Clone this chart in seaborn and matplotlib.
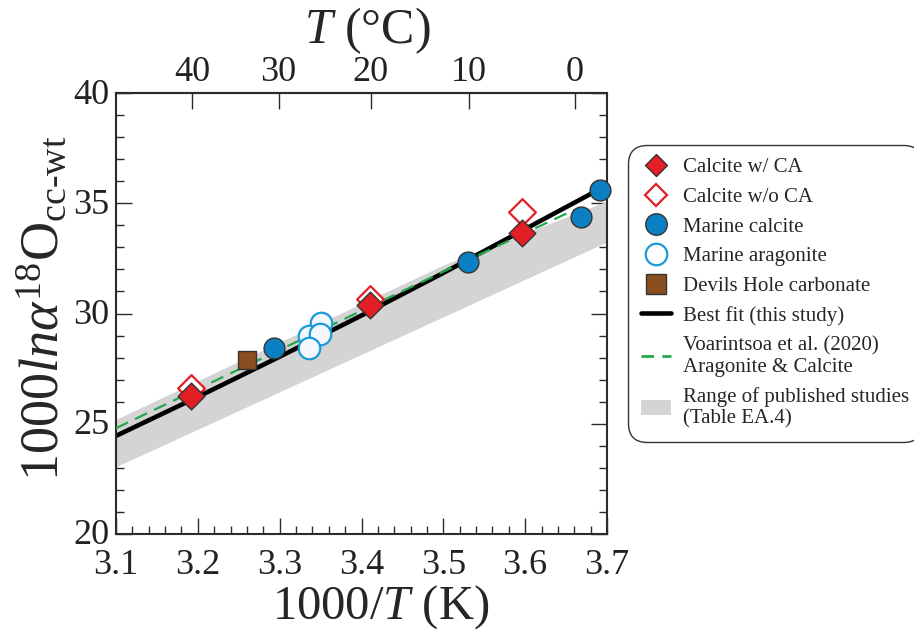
import numpy as np
import pandas as pd
import matplotlib
matplotlib.use("Agg")
import matplotlib.pyplot as plt
import matplotlib.transforms as mtransforms
import seaborn as sns
from matplotlib.lines import Line2D
from matplotlib.patches import Patch
from matplotlib.ticker import MultipleLocator, NullLocator

# ---------------- data (x = 1000/T in K, y = 1000 ln alpha) ----------------
calcite_ca_x = [3.192, 3.410, 3.596]
calcite_ca_y = [26.26, 30.39, 33.64]

calcite_noca_x = [3.192, 3.410, 3.596]
calcite_noca_y = [26.63, 30.65, 34.62]

marine_calcite_x = [3.293, 3.530, 3.668, 3.691]
marine_calcite_y = [28.45, 32.32, 34.38, 35.58]

marine_arag_x = [3.350, 3.336, 3.349, 3.336]
marine_arag_y = [29.57, 29.00, 29.05, 28.43]

devils_x = [3.2605]
devils_y = [27.87]

bestfit_x = [3.10, 3.20, 3.30, 3.40, 3.50, 3.60, 3.69]
bestfit_y = [24.45, 26.22, 28.04, 29.91, 31.84, 33.83, 35.62]

voar_x = [3.10, 3.30, 3.50, 3.66]
voar_y = [24.80, 28.35, 31.90, 34.70]

band_x = [3.10, 3.30, 3.50, 3.70]
band_hi = [25.20, 28.70, 32.20, 35.10]
band_lo = [23.05, 26.45, 29.85, 33.25]

top_ticks_c = [40, 30, 20, 10, 0]

labels = ["Calcite w/ CA", "Calcite w/o CA", "Marine calcite", "Marine aragonite",
          "Devils Hole carbonate", "Best fit (this study)",
          "Voarintsoa et al. (2020)\nAragonite & Calcite",
          "Range of published studies\n(Table EA.4)"]

# ---------------- style ----------------
sns.set_style("ticks")
plt.rcParams["font.family"] = ["Liberation Serif", "DejaVu Serif"]
plt.rcParams["mathtext.fontset"] = "custom"
plt.rcParams["mathtext.rm"] = "Liberation Serif"
plt.rcParams["mathtext.it"] = "Liberation Serif:italic"
plt.rcParams["mathtext.bf"] = "Liberation Serif:bold"
plt.rcParams["axes.edgecolor"] = "#2b2b2b"
plt.rcParams["xtick.color"] = "#2b2b2b"
plt.rcParams["ytick.color"] = "#2b2b2b"
plt.rcParams["xtick.labelcolor"] = "#222222"
plt.rcParams["ytick.labelcolor"] = "#222222"

RED = "#e31e24"
BLUE = "#0a7fc1"
LBLUE = "#1a9ad6"
BROWN = "#8b4f1f"
GREEN = "#22a84a"
GRAY = "#d4d4d4"
EDGE = "#333333"

fig = plt.figure(figsize=(9.14, 6.31), dpi=100)
ax = fig.add_axes([116 / 914, 1 - 534 / 631, 491 / 914, 441 / 631])

# band
ax.fill_between(band_x, band_lo, band_hi, color=GRAY, lw=0, zorder=1)

# lines
sns.lineplot(x=bestfit_x, y=bestfit_y, color="black", lw=3.3, estimator=None,
             ax=ax, zorder=2, solid_capstyle="butt")
sns.lineplot(x=voar_x, y=voar_y, color=GREEN, lw=1.6, estimator=None,
             linestyle=(0, (6, 3.5)), ax=ax, zorder=3)

# points
sns.scatterplot(x=marine_arag_x, y=marine_arag_y, marker="o", s=240, color="#f4f8fc",
                edgecolor=LBLUE, linewidth=1.6, ax=ax, zorder=4, clip_on=False)
sns.scatterplot(x=devils_x, y=devils_y, marker="s", s=150, color=BROWN,
                edgecolor=EDGE, linewidth=1.0, ax=ax, zorder=4, clip_on=False)
sns.scatterplot(x=marine_calcite_x, y=marine_calcite_y, marker="o", s=225, color=BLUE,
                edgecolor=EDGE, linewidth=1.0, ax=ax, zorder=5, clip_on=False)
sns.scatterplot(x=calcite_noca_x, y=calcite_noca_y, marker="D", s=185, color="white",
                edgecolor=RED, linewidth=1.6, ax=ax, zorder=5, clip_on=False)
sns.scatterplot(x=calcite_ca_x, y=calcite_ca_y, marker="D", s=185, color=RED,
                edgecolor=EDGE, linewidth=1.0, ax=ax, zorder=6, clip_on=False)

# axes
ax.set_xlim(3.1, 3.7)
ax.set_ylim(20, 40)
ax.xaxis.set_major_locator(MultipleLocator(0.1))
ax.xaxis.set_minor_locator(MultipleLocator(0.02))
ax.yaxis.set_major_locator(MultipleLocator(5))
ax.yaxis.set_minor_locator(MultipleLocator(1))
ax.set_xticklabels([f"{v:.1f}" for v in ax.get_xticks()])
ax.tick_params(which="both", direction="in", top=False, right=True, left=True, bottom=True,
               width=1.0)
ax.tick_params(which="major", length=11.5, labelsize=26)
ax.tick_params(which="minor", length=6)
ax.tick_params(axis="x", which="major", pad=11)
ax.tick_params(axis="y", which="major", pad=5)
for sp in ax.spines.values():
    sp.set_linewidth(1.5)
    sp.set_visible(True)

# nudge y tick labels up slightly (as in the reference, "20" sits just above "3.1")
offset = mtransforms.ScaledTranslation(0, 2 / 100, fig.dpi_scale_trans)
for lab in ax.get_yticklabels():
    lab.set_transform(lab.get_transform() + offset)

ax.set_xlabel(r"1000/$\mathit{T}$ (K)", fontsize=35)
ax.xaxis.set_label_coords(0.54, -0.111)
ax.set_ylabel(r"1000$\mathit{ln\alpha}^{18}\mathrm{O}_{\mathrm{cc‐wt}}$", fontsize=39)
ax.yaxis.set_label_coords(-0.093, 0.512)

# top temperature axis
with np.errstate(divide="ignore"):
    secax = ax.secondary_xaxis("top", functions=(lambda x: 1000.0 / x - 273.15,
                                                 lambda t: 1000.0 / (t + 273.15)))
secax.set_xticks(top_ticks_c)
secax.set_xticklabels([str(t) for t in top_ticks_c])
secax.xaxis.set_minor_locator(NullLocator())
secax.tick_params(direction="in", length=11.5, width=1.0, labelsize=26, pad=3)
secax.spines["top"].set_linewidth(1.5)
fig.text(367 / 914, 1 - 31 / 631, r"$\mathit{T}$ (°C)", fontsize=36,
         ha="center", va="center")

# legend
handles = [
    Line2D([], [], ls="", marker="D", ms=11, mfc=RED, mec=EDGE, mew=1.0),
    Line2D([], [], ls="", marker="D", ms=11, mfc="white", mec=RED, mew=1.6),
    Line2D([], [], ls="", marker="o", ms=15.5, mfc=BLUE, mec=EDGE, mew=1.0),
    Line2D([], [], ls="", marker="o", ms=15.5, mfc="white", mec=LBLUE, mew=1.6),
    Line2D([], [], ls="", marker="s", ms=14, mfc=BROWN, mec=EDGE, mew=1.0),
    Line2D([], [], color="black", lw=3.3),
    Line2D([], [], color=GREEN, lw=2.0, linestyle=(0, (4.5, 3))),
    Patch(facecolor=GRAY, edgecolor="none"),
]
leg = fig.legend(handles, labels, loc="upper left", bbox_to_anchor=(628 / 914, 1 - 145 / 631),
                 bbox_transform=fig.transFigure, borderaxespad=0, fontsize=15,
                 frameon=True, fancybox=True, edgecolor="#333333", framealpha=1,
                 handlelength=1.45, handletextpad=0.55, borderpad=0.62, labelspacing=0.48)
leg.get_frame().set_linewidth(1.0)
leg.get_frame().set_boxstyle("round", pad=0.0, rounding_size=0.9)

fig.savefig("out.png", dpi=100)
